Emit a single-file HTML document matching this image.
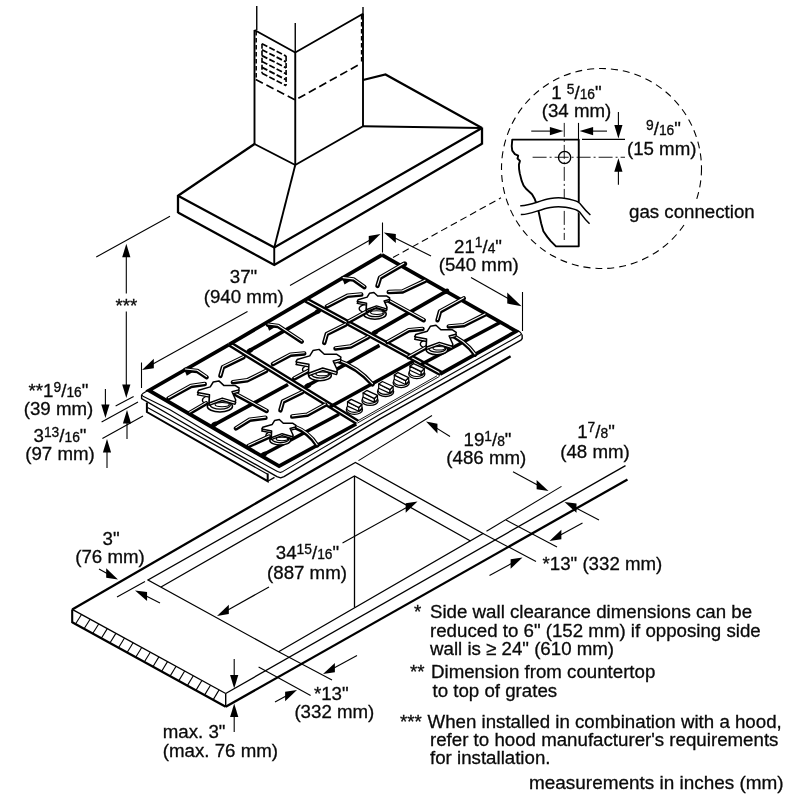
<!DOCTYPE html>
<html><head><meta charset="utf-8"><title>Cooktop installation dimensions</title>
<style>
html,body{margin:0;padding:0;background:#fff;}
body{width:800px;height:800px;overflow:hidden;will-change:transform;transform:translateZ(0);}
svg{display:block;}
text{font-family:"Liberation Sans",sans-serif;fill:#0a0a0a;stroke:#0a0a0a;stroke-width:0.3px;}
</style></head><body>
<svg width="800" height="800" viewBox="0 0 800 800">
<rect width="800" height="800" fill="#fff"/>
<path d="M256.75 6 L256.75 30" fill="none" stroke="#000" stroke-width="1.4"/>
<path d="M295.25 23 L295.25 52.5" fill="none" stroke="#000" stroke-width="1.4"/>
<path d="M363 7 L363 14" fill="none" stroke="#000" stroke-width="1.4"/>
<path d="M254.5 30 L254.5 144" fill="none" stroke="#000" stroke-width="1.9"/>
<path d="M295.25 52.5 L295.25 165" fill="none" stroke="#000" stroke-width="1.9"/>
<path d="M363 13.75 L363 126.5" fill="none" stroke="#000" stroke-width="1.9"/>
<path d="M254.5 30 L295.25 52.5 L363 13.75" fill="none" stroke="#000" stroke-width="1.9"/>
<path d="M254.5 144 L295.25 165" fill="none" stroke="#000" stroke-width="1.9"/>
<path d="M256.2 31 L256.2 79.5" fill="none" stroke="#000" stroke-width="1.5" stroke-dasharray="4.5 2.5"/>
<path d="M361.6 15 L361.6 63" fill="none" stroke="#000" stroke-width="1.5" stroke-dasharray="4.5 2.5"/>
<path d="M255.75 79.5 L295.25 100 L361 63.5" fill="none" stroke="#000" stroke-width="1.7" stroke-dasharray="8 4"/>
<path d="M262 43.8 L262 73.3" fill="none" stroke="#000" stroke-width="1.6" stroke-dasharray="5 2"/>
<path d="M286.1 56.1 L286.1 85.6" fill="none" stroke="#000" stroke-width="1.6" stroke-dasharray="5 2"/>
<path d="M262 43.8 L286.1 56.1" fill="none" stroke="#000" stroke-width="1.8" stroke-dasharray="6 2.2"/>
<path d="M262 49.7 L286.1 62" fill="none" stroke="#000" stroke-width="1.8" stroke-dasharray="6 2.2"/>
<path d="M262 55.6 L286.1 67.9" fill="none" stroke="#000" stroke-width="1.8" stroke-dasharray="6 2.2"/>
<path d="M262 61.5 L286.1 73.8" fill="none" stroke="#000" stroke-width="1.8" stroke-dasharray="6 2.2"/>
<path d="M262 67.4 L286.1 79.7" fill="none" stroke="#000" stroke-width="1.8" stroke-dasharray="6 2.2"/>
<path d="M262 73.3 L286.1 85.6" fill="none" stroke="#000" stroke-width="1.8" stroke-dasharray="6 2.2"/>
<path d="M254.5 144 L178 195.75" fill="none" stroke="#000" stroke-width="2.3"/>
<path d="M295.25 165 L274.25 247.5" fill="none" stroke="#000" stroke-width="1.9"/>
<path d="M295.25 165 L363 126.3" fill="none" stroke="#000" stroke-width="1.9"/>
<path d="M363 126.3 L482 128" fill="none" stroke="#000" stroke-width="1.9"/>
<path d="M363 80 L385.5 74.5 L482 128" fill="none" stroke="#000" stroke-width="2.3"/>
<path d="M178 195.75 L274.25 247.5 L482 128" fill="none" stroke="#000" stroke-width="2.3"/>
<path d="M178 212.5 L274.25 265 L482 143.75" fill="none" stroke="#000" stroke-width="2.3"/>
<path d="M178 195 L178 213" fill="none" stroke="#000" stroke-width="2.3"/>
<path d="M274.25 247.5 L274.25 265" fill="none" stroke="#000" stroke-width="1.9"/>
<path d="M482 127.5 L482 144.5" fill="none" stroke="#000" stroke-width="2.3"/>
<path d="M146.9 402.5 L146.9 412 L267.7 481.2 L267.7 473.5" fill="none" stroke="#000" stroke-width="2"/>
<path d="M147.5 407.6 L267.7 474.2" fill="none" stroke="#000" stroke-width="1.2"/>
<path d="M267.7 481.2 L274.5 477.4" fill="none" stroke="#000" stroke-width="1.3"/>
<path d="M149.5 389.6 L143.2 393.2 L141.6 394.9 L143 396.2 L170 409.8 L225 442.5 L277.5 471.6 L280.3 472.6 L283 471.4 L380 414.3 L519.5 335.6 L521.6 334 L520.3 332.3 L516.5 330" fill="none" stroke="#000" stroke-width="1.1" stroke-linejoin="round"/>
<path d="M141.6 395 L141.6 398.7 L170 415 L225 447.1 L277 476.6 L280.6 477.9 L284 476.6 L380 418.8 L521 340.2 L522.2 338.5 L522.1 334.4" fill="none" stroke="#000" stroke-width="1.4" stroke-linejoin="round"/>
<path d="M357.5 421 L437 375.8" fill="none" stroke="#000" stroke-width="0.9"/>
<path d="M357.5 423 L439.5 376.4" fill="none" stroke="#000" stroke-width="0.9"/>
<path d="M229 344.6 L149 390.4 L279.1 466.2 L356.2 424" fill="none" stroke="#000" stroke-width="3.7"/>
<path d="M230.92 342.51 L358.22 420.81" fill="none" stroke="#000" stroke-width="2.4"/>
<path d="M229.08 345.49 L356.38 423.79" fill="none" stroke="#000" stroke-width="2.4"/>
<path d="M212.2 425.8 L288 384.5" fill="none" stroke="#000" stroke-width="3.7"/>
<path d="M261.6 455.6 L339 414.3" fill="none" stroke="#000" stroke-width="3.4"/>
<path d="M229 344.6 L382 254.8" fill="none" stroke="#000" stroke-width="3.7"/>
<path d="M247.5 351.8 L316.5 312.3" fill="none" stroke="#000" stroke-width="3.7"/>
<path d="M305 387 L379.5 345.4" fill="none" stroke="#000" stroke-width="3.7"/>
<path d="M330 407 L413.5 361" fill="none" stroke="#000" stroke-width="3.7"/>
<path d="M306.84 298.46 L441.84 371.96" fill="none" stroke="#000" stroke-width="2.4"/>
<path d="M305.16 301.54 L440.16 375.04" fill="none" stroke="#000" stroke-width="2.4"/>
<path d="M381.9 254.9 L516.3 331.3 L440 374.2" fill="none" stroke="#000" stroke-width="3.7"/>
<path d="M372.5 333.6 L447.5 290.6" fill="none" stroke="#000" stroke-width="3.7"/>
<path d="M421 364.6 L500 322.6" fill="none" stroke="#000" stroke-width="3.4"/>
<ellipse cx="214.5" cy="424.3" rx="3.4" ry="2.4" transform="rotate(-30 214.5 424.3)" fill="#000"/>
<ellipse cx="264" cy="454.3" rx="3.4" ry="2.4" transform="rotate(-30 264 454.3)" fill="#000"/>
<ellipse cx="318" cy="311.3" rx="3.4" ry="2.4" transform="rotate(-30 318 311.3)" fill="#000"/>
<ellipse cx="375" cy="332.5" rx="3.4" ry="2.4" transform="rotate(-30 375 332.5)" fill="#000"/>
<ellipse cx="446" cy="291.3" rx="3.4" ry="2.4" transform="rotate(-30 446 291.3)" fill="#000"/>
<ellipse cx="404" cy="264.4" rx="3.4" ry="2.4" transform="rotate(-30 404 264.4)" fill="#000"/>
<ellipse cx="250" cy="350.5" rx="3.4" ry="2.4" transform="rotate(-30 250 350.5)" fill="#000"/>
<ellipse cx="308" cy="385.6" rx="3.4" ry="2.4" transform="rotate(-30 308 385.6)" fill="#000"/>
<ellipse cx="213.9" cy="400.2" rx="11.5" ry="5.2" fill="#fff" stroke="#000" stroke-width="1.3"/>
<ellipse cx="219.9" cy="406.2" rx="12.6" ry="5.8" fill="#fff" stroke="#000" stroke-width="1.5"/>
<ellipse cx="220.3" cy="404.9" rx="10.08" ry="4.29" fill="#fff" stroke="#000" stroke-width="1.3"/>
<ellipse cx="222.1" cy="404.6" rx="7.06" ry="2.09" fill="#fff" stroke="#000" stroke-width="1.1"/>
<ellipse cx="275.22" cy="435.38" rx="9.43" ry="4.26" fill="#fff" stroke="#000" stroke-width="1.3"/>
<ellipse cx="280.14" cy="440.3" rx="10.33" ry="4.76" fill="#fff" stroke="#000" stroke-width="1.5"/>
<ellipse cx="280.47" cy="439.23" rx="8.27" ry="3.52" fill="#fff" stroke="#000" stroke-width="1.3"/>
<ellipse cx="281.94" cy="438.99" rx="5.79" ry="1.71" fill="#fff" stroke="#000" stroke-width="1.1"/>
<ellipse cx="314" cy="369.5" rx="11.5" ry="5.2" fill="#fff" stroke="#000" stroke-width="1.3"/>
<ellipse cx="320" cy="375.5" rx="11.34" ry="5.22" fill="#fff" stroke="#000" stroke-width="1.5"/>
<ellipse cx="320.4" cy="374.2" rx="9.07" ry="3.86" fill="#fff" stroke="#000" stroke-width="1.3"/>
<ellipse cx="322.2" cy="373.9" rx="6.35" ry="1.88" fill="#fff" stroke="#000" stroke-width="1.1"/>
<ellipse cx="369.5" cy="308.6" rx="10.35" ry="4.68" fill="#fff" stroke="#000" stroke-width="1.3"/>
<ellipse cx="374.9" cy="314" rx="11.34" ry="5.22" fill="#fff" stroke="#000" stroke-width="1.5"/>
<ellipse cx="375.26" cy="312.83" rx="9.07" ry="3.86" fill="#fff" stroke="#000" stroke-width="1.3"/>
<ellipse cx="376.88" cy="312.56" rx="6.35" ry="1.88" fill="#fff" stroke="#000" stroke-width="1.1"/>
<ellipse cx="431.2" cy="344.05" rx="10.92" ry="4.94" fill="#fff" stroke="#000" stroke-width="1.3"/>
<ellipse cx="436.9" cy="349.75" rx="10.77" ry="4.96" fill="#fff" stroke="#000" stroke-width="1.5"/>
<ellipse cx="437.28" cy="348.51" rx="8.62" ry="3.67" fill="#fff" stroke="#000" stroke-width="1.3"/>
<ellipse cx="438.99" cy="348.23" rx="6.03" ry="1.79" fill="#fff" stroke="#000" stroke-width="1.1"/>
<path d="M168.5 398.35 L191 385.95 L204.75 384.1" fill="none" stroke="#000" stroke-width="4.5" stroke-linecap="round" stroke-linejoin="round"/>
<path d="M168.5 397.65 L191 385.25 L204.75 383.4" fill="none" stroke="#fff" stroke-width="1.1" stroke-linecap="round" stroke-linejoin="round"/>
<path d="M189.75 412.85 L206 403.35" fill="none" stroke="#000" stroke-width="4.5" stroke-linecap="round" stroke-linejoin="round"/>
<path d="M189.75 412.15 L206 402.65" fill="none" stroke="#fff" stroke-width="1.1" stroke-linecap="round" stroke-linejoin="round"/>
<path d="M185.4 369.75 L197.25 370.95 L206.6 377.25" fill="none" stroke="#000" stroke-width="4.5" stroke-linecap="round" stroke-linejoin="round"/>
<path d="M185.4 369.05 L197.25 370.25 L206.6 376.55" fill="none" stroke="#fff" stroke-width="1.1" stroke-linecap="round" stroke-linejoin="round"/>
<path d="M243.5 357.25 L222.9 367.25 L220.4 375.95" fill="none" stroke="#000" stroke-width="4.5" stroke-linecap="round" stroke-linejoin="round"/>
<path d="M243.5 356.55 L222.9 366.55 L220.4 375.25" fill="none" stroke="#fff" stroke-width="1.1" stroke-linecap="round" stroke-linejoin="round"/>
<path d="M266 370.95 L247.25 380.35 L232.9 382.25" fill="none" stroke="#000" stroke-width="4.5" stroke-linecap="round" stroke-linejoin="round"/>
<path d="M266 370.25 L247.25 379.65 L232.9 381.55" fill="none" stroke="#fff" stroke-width="1.1" stroke-linecap="round" stroke-linejoin="round"/>
<path d="M232.25 392.25 L266.6 410.95" fill="none" stroke="#000" stroke-width="4.5" stroke-linecap="round" stroke-linejoin="round"/>
<path d="M232.25 391.55 L266.6 410.25" fill="none" stroke="#fff" stroke-width="1.1" stroke-linecap="round" stroke-linejoin="round"/>
<path d="M236 428.35 L249.75 419.75 L265.4 417.85" fill="none" stroke="#000" stroke-width="4.5" stroke-linecap="round" stroke-linejoin="round"/>
<path d="M236 427.65 L249.75 419.05 L265.4 417.15" fill="none" stroke="#fff" stroke-width="1.1" stroke-linecap="round" stroke-linejoin="round"/>
<path d="M248.5 445.95 L269 436.6" fill="none" stroke="#000" stroke-width="4.5" stroke-linecap="round" stroke-linejoin="round"/>
<path d="M248.5 445.25 L269 435.9" fill="none" stroke="#fff" stroke-width="1.1" stroke-linecap="round" stroke-linejoin="round"/>
<path d="M302.25 392.25 L282.9 401.6 L280.4 410.35" fill="none" stroke="#000" stroke-width="4.5" stroke-linecap="round" stroke-linejoin="round"/>
<path d="M302.25 391.55 L282.9 400.9 L280.4 409.65" fill="none" stroke="#fff" stroke-width="1.1" stroke-linecap="round" stroke-linejoin="round"/>
<path d="M325.4 404.75 L307.25 414.75 L292.25 416.6" fill="none" stroke="#000" stroke-width="4.5" stroke-linecap="round" stroke-linejoin="round"/>
<path d="M325.4 404.05 L307.25 414.05 L292.25 415.9" fill="none" stroke="#fff" stroke-width="1.1" stroke-linecap="round" stroke-linejoin="round"/>
<path d="M294 426.2 Q309 432 317.2 445" fill="none" stroke="#000" stroke-width="4.5" stroke-linecap="round" transform="translate(0 0.35)"/>
<path d="M294 426.2 Q309 432 317.2 445" fill="none" stroke="#fff" stroke-width="1.1" stroke-linecap="round" transform="translate(0 -0.35)"/>
<path d="M273 364.1 L290.5 354.75 L304.25 353.45" fill="none" stroke="#000" stroke-width="4.5" stroke-linecap="round" stroke-linejoin="round"/>
<path d="M273 363.4 L290.5 354.05 L304.25 352.75" fill="none" stroke="#fff" stroke-width="1.1" stroke-linecap="round" stroke-linejoin="round"/>
<path d="M294.25 378.45 L314.25 367.85" fill="none" stroke="#000" stroke-width="4.5" stroke-linecap="round" stroke-linejoin="round"/>
<path d="M294.25 377.75 L314.25 367.15" fill="none" stroke="#fff" stroke-width="1.1" stroke-linecap="round" stroke-linejoin="round"/>
<path d="M268 324.75 L278 325.95 L301.75 341.6" fill="none" stroke="#000" stroke-width="4.5" stroke-linecap="round" stroke-linejoin="round"/>
<path d="M268 324.05 L278 325.25 L301.75 340.9" fill="none" stroke="#fff" stroke-width="1.1" stroke-linecap="round" stroke-linejoin="round"/>
<path d="M345.5 324.75 L326.75 334.1 L324.25 342.85" fill="none" stroke="#000" stroke-width="4.5" stroke-linecap="round" stroke-linejoin="round"/>
<path d="M345.5 324.05 L326.75 333.4 L324.25 342.15" fill="none" stroke="#fff" stroke-width="1.1" stroke-linecap="round" stroke-linejoin="round"/>
<path d="M368 337.25 L350.5 346.6 L335.5 348.45" fill="none" stroke="#000" stroke-width="4.5" stroke-linecap="round" stroke-linejoin="round"/>
<path d="M368 336.55 L350.5 345.9 L335.5 347.75" fill="none" stroke="#fff" stroke-width="1.1" stroke-linecap="round" stroke-linejoin="round"/>
<path d="M335.5 359.4 Q358 367 372.5 384" fill="none" stroke="#000" stroke-width="4.5" stroke-linecap="round" transform="translate(0 0.35)"/>
<path d="M335.5 359.4 Q358 367 372.5 384" fill="none" stroke="#fff" stroke-width="1.1" stroke-linecap="round" transform="translate(0 -0.35)"/>
<path d="M326.9 306.45 L347.5 295.85 L361.25 294.6" fill="none" stroke="#000" stroke-width="4.5" stroke-linecap="round" stroke-linejoin="round"/>
<path d="M326.9 305.75 L347.5 295.15 L361.25 293.9" fill="none" stroke="#fff" stroke-width="1.1" stroke-linecap="round" stroke-linejoin="round"/>
<path d="M348.75 321.45 L372.5 308.35" fill="none" stroke="#000" stroke-width="4.5" stroke-linecap="round" stroke-linejoin="round"/>
<path d="M348.75 320.75 L372.5 307.65" fill="none" stroke="#fff" stroke-width="1.1" stroke-linecap="round" stroke-linejoin="round"/>
<path d="M343.1 278.35 L353.75 279.6 L364.4 287.1" fill="none" stroke="#000" stroke-width="4.5" stroke-linecap="round" stroke-linejoin="round"/>
<path d="M343.1 277.65 L353.75 278.9 L364.4 286.4" fill="none" stroke="#fff" stroke-width="1.1" stroke-linecap="round" stroke-linejoin="round"/>
<path d="M403.75 263.95 L380 277.75 L377.5 285.85" fill="none" stroke="#000" stroke-width="4.5" stroke-linecap="round" stroke-linejoin="round"/>
<path d="M403.75 263.25 L380 277.05 L377.5 285.15" fill="none" stroke="#fff" stroke-width="1.1" stroke-linecap="round" stroke-linejoin="round"/>
<path d="M425 280.85 L402.5 291.45 L388.75 292.1" fill="none" stroke="#000" stroke-width="4.5" stroke-linecap="round" stroke-linejoin="round"/>
<path d="M425 280.15 L402.5 290.75 L388.75 291.4" fill="none" stroke="#fff" stroke-width="1.1" stroke-linecap="round" stroke-linejoin="round"/>
<path d="M388.75 300.85 L423.75 320.25" fill="none" stroke="#000" stroke-width="4.5" stroke-linecap="round" stroke-linejoin="round"/>
<path d="M388.75 300.15 L423.75 319.55" fill="none" stroke="#fff" stroke-width="1.1" stroke-linecap="round" stroke-linejoin="round"/>
<path d="M387.5 342.1 L408.75 330.25 L422.5 328.95" fill="none" stroke="#000" stroke-width="4.5" stroke-linecap="round" stroke-linejoin="round"/>
<path d="M387.5 341.4 L408.75 329.55 L422.5 328.25" fill="none" stroke="#fff" stroke-width="1.1" stroke-linecap="round" stroke-linejoin="round"/>
<path d="M408.75 357.1 L431.25 344.6" fill="none" stroke="#000" stroke-width="4.5" stroke-linecap="round" stroke-linejoin="round"/>
<path d="M408.75 356.4 L431.25 343.9" fill="none" stroke="#fff" stroke-width="1.1" stroke-linecap="round" stroke-linejoin="round"/>
<path d="M463.75 298.35 L440 311.45 L437.5 320.25" fill="none" stroke="#000" stroke-width="4.5" stroke-linecap="round" stroke-linejoin="round"/>
<path d="M463.75 297.65 L440 310.75 L437.5 319.55" fill="none" stroke="#fff" stroke-width="1.1" stroke-linecap="round" stroke-linejoin="round"/>
<path d="M485 314.6 L463.75 325.25 L448.75 326.45" fill="none" stroke="#000" stroke-width="4.5" stroke-linecap="round" stroke-linejoin="round"/>
<path d="M485 313.9 L463.75 324.55 L448.75 325.75" fill="none" stroke="#fff" stroke-width="1.1" stroke-linecap="round" stroke-linejoin="round"/>
<path d="M447.5 333 Q465 340 475 354.2" fill="none" stroke="#000" stroke-width="4.5" stroke-linecap="round" transform="translate(0 0.35)"/>
<path d="M447.5 333 Q465 340 475 354.2" fill="none" stroke="#fff" stroke-width="1.1" stroke-linecap="round" transform="translate(0 -0.35)"/>
<polygon points="184.7,370.4 193.2,371.8 186.7,375.8" fill="#000"/>
<polygon points="342.5,279 351,280.4 344.5,284.4" fill="#000"/>
<polygon points="267.1,325.4 275.6,326.8 269.1,330.8" fill="#000"/>
<path d="M197.5 394.9 L198.6 392.65 L210.25 389.3 L213.25 384.4 L218.9 383.3 L223.75 387.8 L235 387.8 L239.1 390.4 L238.75 392.3 L232 394.15 L235.75 402.4 L235 404.3 L222.25 400.5 L209.1 405.4 L209.5 397.15 Z" fill="#fff" stroke="#000" stroke-width="1.4" stroke-linejoin="round"/>
<path d="M197.5 392.5 L198.6 390.25 L210.25 386.9 L213.25 382 L218.9 380.9 L223.75 385.4 L235 385.4 L239.1 388 L238.75 389.9 L232 391.75 L235.75 400 L235 401.9 L222.25 398.1 L209.1 403 L209.5 394.75 Z" fill="#fff" stroke="#000" stroke-width="1.5" stroke-linejoin="round"/>
<path d="M261.77 431.03 L262.67 429.19 L272.23 426.44 L274.69 422.42 L279.32 421.52 L283.3 425.21 L292.52 425.21 L295.88 427.34 L295.6 428.9 L290.06 430.42 L293.14 437.18 L292.52 438.74 L282.07 435.63 L271.28 439.64 L271.61 432.88 Z" fill="#fff" stroke="#000" stroke-width="1.4" stroke-linejoin="round"/>
<path d="M261.77 429.07 L262.67 427.22 L272.23 424.47 L274.69 420.46 L279.32 419.55 L283.3 423.24 L292.52 423.24 L295.88 425.38 L295.6 426.93 L290.06 428.45 L293.14 435.22 L292.52 436.77 L282.07 433.66 L271.28 437.68 L271.61 430.91 Z" fill="#fff" stroke="#000" stroke-width="1.5" stroke-linejoin="round"/>
<path d="M295.97 364.5 L297.16 362.07 L309.74 358.45 L312.98 353.16 L319.08 351.97 L324.32 356.83 L336.47 356.83 L340.9 359.64 L340.52 361.69 L333.23 363.69 L337.28 372.6 L336.47 374.65 L322.7 370.54 L308.5 375.84 L308.93 366.93 Z" fill="#fff" stroke="#000" stroke-width="1.4" stroke-linejoin="round"/>
<path d="M295.97 361.9 L297.16 359.47 L309.74 355.86 L312.98 350.56 L319.08 349.38 L324.32 354.24 L336.47 354.24 L340.9 357.04 L340.52 359.1 L333.23 361.09 L337.28 370 L336.47 372.06 L322.7 367.95 L308.5 373.24 L308.93 364.33 Z" fill="#fff" stroke="#000" stroke-width="1.5" stroke-linejoin="round"/>
<path d="M357.19 303.39 L358.05 301.63 L367.13 299.02 L369.47 295.2 L373.88 294.34 L377.66 297.85 L386.44 297.85 L389.64 299.88 L389.36 301.36 L384.1 302.8 L387.02 309.24 L386.44 310.72 L376.49 307.75 L366.24 311.58 L366.55 305.14 Z" fill="#fff" stroke="#000" stroke-width="1.4" stroke-linejoin="round"/>
<path d="M357.19 301.51 L358.05 299.76 L367.13 297.15 L369.47 293.32 L373.88 292.47 L377.66 295.98 L386.44 295.98 L389.64 298 L389.36 299.49 L384.1 300.93 L387.02 307.36 L386.44 308.85 L376.49 305.88 L366.24 309.7 L366.55 303.27 Z" fill="#fff" stroke="#000" stroke-width="1.5" stroke-linejoin="round"/>
<path d="M414.6 339.2 L415.7 336.95 L427.35 333.6 L430.35 328.7 L436 327.6 L440.85 332.1 L452.1 332.1 L456.2 334.7 L455.85 336.6 L449.1 338.45 L452.85 346.7 L452.1 348.6 L439.35 344.8 L426.2 349.7 L426.6 341.45 Z" fill="#fff" stroke="#000" stroke-width="1.4" stroke-linejoin="round"/>
<path d="M414.6 336.8 L415.7 334.55 L427.35 331.2 L430.35 326.3 L436 325.2 L440.85 329.7 L452.1 329.7 L456.2 332.3 L455.85 334.2 L449.1 336.05 L452.85 344.3 L452.1 346.2 L439.35 342.4 L426.2 347.3 L426.6 339.05 Z" fill="#fff" stroke="#000" stroke-width="1.5" stroke-linejoin="round"/>
<ellipse cx="354.4" cy="409.7" rx="8.1" ry="4.7" fill="#fff" stroke="#000" stroke-width="1.3"/>
<ellipse cx="354.4" cy="407.9" rx="7.6" ry="4.4" fill="#fff" stroke="#000" stroke-width="1.2"/>
<path d="M347.5 401.9 L358.8 407.5 L358.8 411.3 L347.5 406.1 Z" fill="#fff" stroke="#000" stroke-width="1.2" stroke-linejoin="round"/>
<path d="M358.8 407.5 L361.9 404.4 L361.9 408.1 L358.8 411.3 Z" fill="#fff" stroke="#000" stroke-width="1.2" stroke-linejoin="round"/>
<path d="M347.5 401.9 L351.2 399.4 L361.9 404.4 L358.8 407.5 Z" fill="#fff" stroke="#000" stroke-width="1.3" stroke-linejoin="round"/>
<ellipse cx="370" cy="400.75" rx="8.1" ry="4.7" fill="#fff" stroke="#000" stroke-width="1.3"/>
<ellipse cx="370" cy="398.95" rx="7.6" ry="4.4" fill="#fff" stroke="#000" stroke-width="1.2"/>
<path d="M363.1 392.95 L374.4 398.55 L374.4 402.35 L363.1 397.15 Z" fill="#fff" stroke="#000" stroke-width="1.2" stroke-linejoin="round"/>
<path d="M374.4 398.55 L377.5 395.45 L377.5 399.15 L374.4 402.35 Z" fill="#fff" stroke="#000" stroke-width="1.2" stroke-linejoin="round"/>
<path d="M363.1 392.95 L366.8 390.45 L377.5 395.45 L374.4 398.55 Z" fill="#fff" stroke="#000" stroke-width="1.3" stroke-linejoin="round"/>
<ellipse cx="385.6" cy="391.8" rx="8.1" ry="4.7" fill="#fff" stroke="#000" stroke-width="1.3"/>
<ellipse cx="385.6" cy="390" rx="7.6" ry="4.4" fill="#fff" stroke="#000" stroke-width="1.2"/>
<path d="M378.7 384 L390 389.6 L390 393.4 L378.7 388.2 Z" fill="#fff" stroke="#000" stroke-width="1.2" stroke-linejoin="round"/>
<path d="M390 389.6 L393.1 386.5 L393.1 390.2 L390 393.4 Z" fill="#fff" stroke="#000" stroke-width="1.2" stroke-linejoin="round"/>
<path d="M378.7 384 L382.4 381.5 L393.1 386.5 L390 389.6 Z" fill="#fff" stroke="#000" stroke-width="1.3" stroke-linejoin="round"/>
<ellipse cx="401.2" cy="382.85" rx="8.1" ry="4.7" fill="#fff" stroke="#000" stroke-width="1.3"/>
<ellipse cx="401.2" cy="381.05" rx="7.6" ry="4.4" fill="#fff" stroke="#000" stroke-width="1.2"/>
<path d="M394.3 375.05 L405.6 380.65 L405.6 384.45 L394.3 379.25 Z" fill="#fff" stroke="#000" stroke-width="1.2" stroke-linejoin="round"/>
<path d="M405.6 380.65 L408.7 377.55 L408.7 381.25 L405.6 384.45 Z" fill="#fff" stroke="#000" stroke-width="1.2" stroke-linejoin="round"/>
<path d="M394.3 375.05 L398 372.55 L408.7 377.55 L405.6 380.65 Z" fill="#fff" stroke="#000" stroke-width="1.3" stroke-linejoin="round"/>
<ellipse cx="416.8" cy="373.9" rx="8.1" ry="4.7" fill="#fff" stroke="#000" stroke-width="1.3"/>
<ellipse cx="416.8" cy="372.1" rx="7.6" ry="4.4" fill="#fff" stroke="#000" stroke-width="1.2"/>
<path d="M409.9 366.1 L421.2 371.7 L421.2 375.5 L409.9 370.3 Z" fill="#fff" stroke="#000" stroke-width="1.2" stroke-linejoin="round"/>
<path d="M421.2 371.7 L424.3 368.6 L424.3 372.3 L421.2 375.5 Z" fill="#fff" stroke="#000" stroke-width="1.2" stroke-linejoin="round"/>
<path d="M409.9 366.1 L413.6 363.6 L424.3 368.6 L421.2 371.7 Z" fill="#fff" stroke="#000" stroke-width="1.3" stroke-linejoin="round"/>
<path d="M510.6 356.3 L72.2 609.4" fill="none" stroke="#000" stroke-width="2.3"/>
<path d="M72.2 609.4 L225.7 693.5" fill="none" stroke="#000" stroke-width="1.4"/>
<path d="M72.2 622.2 L225.7 706.8" fill="none" stroke="#000" stroke-width="2.3"/>
<path d="M72.2 609.4 L72.2 623" fill="none" stroke="#000" stroke-width="2.1"/>
<path d="M225.7 693.5 L225.7 706.8" fill="none" stroke="#000" stroke-width="1.4"/>
<path d="M225.7 693.5 L625.5 465.6" fill="none" stroke="#000" stroke-width="1.3"/>
<path d="M225.7 706.8 L627.5 479.5" fill="none" stroke="#000" stroke-width="2.3"/>
<path d="M75.5 624.02 L81.5 614.5" fill="none" stroke="#000" stroke-width="1.1"/>
<path d="M84.1 628.76 L90.1 619.21" fill="none" stroke="#000" stroke-width="1.1"/>
<path d="M92.7 633.5 L98.7 623.92" fill="none" stroke="#000" stroke-width="1.1"/>
<path d="M101.3 638.24 L107.3 628.63" fill="none" stroke="#000" stroke-width="1.1"/>
<path d="M109.9 642.98 L115.9 633.34" fill="none" stroke="#000" stroke-width="1.1"/>
<path d="M118.5 647.72 L124.5 638.05" fill="none" stroke="#000" stroke-width="1.1"/>
<path d="M127.1 652.46 L133.1 642.77" fill="none" stroke="#000" stroke-width="1.1"/>
<path d="M135.7 657.2 L141.7 647.48" fill="none" stroke="#000" stroke-width="1.1"/>
<path d="M144.3 661.94 L150.3 652.19" fill="none" stroke="#000" stroke-width="1.1"/>
<path d="M152.9 666.68 L158.9 656.9" fill="none" stroke="#000" stroke-width="1.1"/>
<path d="M161.5 671.42 L167.5 661.61" fill="none" stroke="#000" stroke-width="1.1"/>
<path d="M170.1 676.16 L176.1 666.33" fill="none" stroke="#000" stroke-width="1.1"/>
<path d="M178.7 680.9 L184.7 671.04" fill="none" stroke="#000" stroke-width="1.1"/>
<path d="M187.3 685.64 L193.3 675.75" fill="none" stroke="#000" stroke-width="1.1"/>
<path d="M195.9 690.38 L201.9 680.46" fill="none" stroke="#000" stroke-width="1.1"/>
<path d="M204.5 695.12 L210.5 685.17" fill="none" stroke="#000" stroke-width="1.1"/>
<path d="M213.1 699.86 L219.1 689.88" fill="none" stroke="#000" stroke-width="1.1"/>
<path d="M278.6 651.8 L148 580 L355.4 462.5 L483 533.5 L278.6 651.8" fill="none" stroke="#000" stroke-width="1.3"/>
<path d="M161 587 L354.5 476 L470.5 541" fill="none" stroke="#000" stroke-width="1.3"/>
<path d="M354.5 476 L354.5 607.5" fill="none" stroke="#000" stroke-width="1.3"/>
<path d="M117 597 L145 581.6" fill="none" stroke="#000" stroke-width="1.1"/>
<path d="M358.5 460.6 L432 415.5" fill="none" stroke="#000" stroke-width="1.1"/>
<path d="M486.5 531.3 L561.5 486.4" fill="none" stroke="#000" stroke-width="1.1"/>
<path d="M483 533.5 L536 561.5" fill="none" stroke="#000" stroke-width="1.1"/>
<path d="M506 520 L557 547" fill="none" stroke="#000" stroke-width="1.1"/>
<path d="M278.6 651.8 L332 680" fill="none" stroke="#000" stroke-width="1.1"/>
<path d="M258.6 667 L310.6 695.4" fill="none" stroke="#000" stroke-width="1.1"/>
<path d="M99 569 L107.08 573.51" fill="none" stroke="#000" stroke-width="1.1"/>
<polygon points="118,579.6 106.21,568.33 106.21,577.72" fill="#000"/>
<path d="M160 603 L146.16 596.03" fill="none" stroke="#000" stroke-width="1.1"/>
<polygon points="135,590.4 147.06,591.88 147.06,601.07" fill="#000"/>
<path d="M269 587 L227.92 609.91" fill="none" stroke="#000" stroke-width="1.1"/>
<polygon points="217,616 228.79,604.73 228.79,614.12" fill="#000"/>
<path d="M342.5 543 L406.56 507.55" fill="none" stroke="#000" stroke-width="1.1"/>
<polygon points="417.5,501.5 405.69,503.35 405.69,512.72" fill="#000"/>
<path d="M450 436.5 L436.6 428.12" fill="none" stroke="#000" stroke-width="1.1"/>
<polygon points="426,421.5 437.45,423.82 437.45,433.49" fill="#000"/>
<path d="M513 471.8 L537.51 485.05" fill="none" stroke="#000" stroke-width="1.1"/>
<polygon points="548.5,491 536.63,479.92 536.63,489.24" fill="#000"/>
<path d="M599 520 L575.58 507.78" fill="none" stroke="#000" stroke-width="1.1"/>
<polygon points="564.5,502 576.47,503.62 576.47,512.87" fill="#000"/>
<path d="M582.5 523 L560.47 535.01" fill="none" stroke="#000" stroke-width="1.1"/>
<polygon points="549.5,541 561.35,529.87 561.35,539.21" fill="#000"/>
<path d="M489.5 575.5 L511.53 563.49" fill="none" stroke="#000" stroke-width="1.1"/>
<polygon points="522.5,557.5 510.65,559.29 510.65,568.63" fill="#000"/>
<path d="M357 655.6 L333.99 668.05" fill="none" stroke="#000" stroke-width="1.1"/>
<polygon points="323,674 334.87,662.91 334.87,672.24" fill="#000"/>
<path d="M275 702 L286.03 695.99" fill="none" stroke="#000" stroke-width="1.1"/>
<polygon points="297,690 285.15,691.79 285.15,701.13" fill="#000"/>
<path d="M234.2 659 L234.2 676" fill="none" stroke="#000" stroke-width="1.1"/>
<polygon points="234.2,688.5 230.1,675 238.3,675" fill="#000"/>
<path d="M234.2 732 L234.2 716" fill="none" stroke="#000" stroke-width="1.1"/>
<polygon points="234.2,703.5 238.3,717 230.1,717" fill="#000"/>
<path d="M96.25 257 L170 216.25" fill="none" stroke="#000" stroke-width="1.1"/>
<path d="M126.3 293.5 L126.3 256.25" fill="none" stroke="#000" stroke-width="1.1"/>
<polygon points="126.3,243.75 130.4,257.25 122.2,257.25" fill="#000"/>
<path d="M126.3 311.5 L126.3 385.5" fill="none" stroke="#000" stroke-width="1.1"/>
<polygon points="126.3,398 122.2,384.5 130.4,384.5" fill="#000"/>
<path d="M115.6 406 L133.6 396.6" fill="none" stroke="#000" stroke-width="1.1"/>
<path d="M101.6 422 L138 402" fill="none" stroke="#000" stroke-width="1.1"/>
<path d="M102.4 438.4 L143 416" fill="none" stroke="#000" stroke-width="1.1"/>
<path d="M105.4 389 L105.4 405.5" fill="none" stroke="#000" stroke-width="1.1"/>
<polygon points="105.4,418 101.3,404.5 109.5,404.5" fill="#000"/>
<path d="M127 439 L127 422.5" fill="none" stroke="#000" stroke-width="1.1"/>
<polygon points="127,410 131.1,423.5 122.9,423.5" fill="#000"/>
<path d="M107 468 L107 451.5" fill="none" stroke="#000" stroke-width="1.1"/>
<polygon points="107,439 111.1,452.5 102.9,452.5" fill="#000"/>
<path d="M141.5 362.5 L141.5 388" fill="none" stroke="#000" stroke-width="1.1"/>
<path d="M382.5 222.5 L382.5 252.5" fill="none" stroke="#000" stroke-width="1.1"/>
<path d="M522.5 292 L522.5 331" fill="none" stroke="#000" stroke-width="1.1"/>
<path d="M247.5 311.5 L152.93 363.94" fill="none" stroke="#000" stroke-width="1.1"/>
<polygon points="142,370 153.81,358.77 153.81,368.14" fill="#000"/>
<path d="M290 285.5 L369.64 240.18" fill="none" stroke="#000" stroke-width="1.1"/>
<polygon points="380.5,234 368.77,235.96 368.77,245.39" fill="#000"/>
<path d="M431 256 L394.94 238.07" fill="none" stroke="#000" stroke-width="1.1"/>
<polygon points="383.75,232.5 395.84,233.93 395.84,243.09" fill="#000"/>
<path d="M471 277.5 L508.12 298.55" fill="none" stroke="#000" stroke-width="1.1"/>
<polygon points="521.6,306.2 507.25,292.6 507.25,303.52" fill="#000"/>
<path d="M393 257.5 L501 197.8" fill="none" stroke="#000" stroke-width="1.1" stroke-dasharray="7 4"/>
<circle cx="601.5" cy="168.5" r="100" fill="none" stroke="#000" stroke-width="1.1" stroke-dasharray="7 5"/>
<path d="M512.25 139.6 L511.73 146.25 L512.25 150.63 L514.88 154.13 L518.2 155.7 L517.5 158.5 L519.95 160.95 L518.9 164.63 L519.08 169 L519.78 173.38 L521.7 180.9 L523.63 185.63 L526.6 189.3 L532.03 194.2 L534.48 198.4 L536.23 203.13 L538.5 211 L541.13 223.26 L543.4 231.31 L547.25 236.91 L550.75 241.11 L556 246.36 L578.75 246.36 L578.75 139.6 Z" fill="none" stroke="#000" stroke-width="1.9" stroke-linejoin="round"/>
<circle cx="564.6" cy="157.5" r="6.1" fill="#fff" stroke="#000" stroke-width="1.4"/>
<path d="M564.25 122.9 L564.25 240" fill="none" stroke="#000" stroke-width="0.9" stroke-dasharray="14 3 2 3"/>
<path d="M532.6 157.25 L625 157.25" fill="none" stroke="#000" stroke-width="0.9" stroke-dasharray="14 3 2 3"/>
<path d="M578.5 122.9 L578.5 139.4" fill="none" stroke="#000" stroke-width="1.1"/>
<path d="M582 139.4 L625 139.4" fill="none" stroke="#000" stroke-width="1.1"/>
<path d="M531.25 131.1 L550.9 131.1" fill="none" stroke="#000" stroke-width="1.1"/>
<polygon points="563.4,131.1 549.9,127 549.9,135.2" fill="#000"/>
<path d="M607 131.1 L592.1 131.1" fill="none" stroke="#000" stroke-width="1.1"/>
<polygon points="579.6,131.1 593.1,127 593.1,135.2" fill="#000"/>
<path d="M618.4 111.9 L618.4 126.1" fill="none" stroke="#000" stroke-width="1.1"/>
<polygon points="618.4,138.6 614.3,125.1 622.5,125.1" fill="#000"/>
<path d="M618.4 184.8 L618.4 170.7" fill="none" stroke="#000" stroke-width="1.1"/>
<polygon points="618.4,158.2 622.5,171.7 614.3,171.7" fill="#000"/>
<path d="M517.5 210.07 C532.88 210.92 546.88 199.42 565.63 202.92 S577.13 207.54 592.31 219.42" fill="none" stroke="#fff" stroke-width="8.6"/>
<path d="M520.25 205.67 C532.88 206.52 546.88 195.02 565.63 198.51 S577.13 203.14 590.39 215.02" fill="none" stroke="#000" stroke-width="1.5"/>
<path d="M520.8 214.47 C532.88 215.32 546.88 203.82 565.63 207.32 S577.13 211.94 589.56 223.82" fill="none" stroke="#000" stroke-width="1.5"/>
<rect x="626" y="203" width="132" height="20" fill="#fff"/>
<text x="243.5" y="282.5" font-size="18.7" text-anchor="middle" >37"</text>
<text x="243.7" y="302.5" font-size="18.7" text-anchor="middle" >(940 mm)</text>
<text x="478" y="252.5" font-size="18.7" text-anchor="middle" >21<tspan font-size="13.8" dy="-5.2">1</tspan><tspan dy="5.2">/</tspan><tspan font-size="13.8">4</tspan>"</text>
<text x="478.7" y="271" font-size="18.7" text-anchor="middle" >(540 mm)</text>
<text x="126.3" y="312" font-size="18.7" text-anchor="middle" >***</text>
<text x="58.5" y="397" font-size="18.7" text-anchor="middle" >**1<tspan font-size="13.8" dy="-5.2">9</tspan><tspan dy="5.2">/</tspan><tspan font-size="13.8">16</tspan>"</text>
<text x="58.5" y="415" font-size="18.7" text-anchor="middle" >(39 mm)</text>
<text x="60" y="442" font-size="18.7" text-anchor="middle" >3<tspan font-size="13.8" dy="-5.2">13</tspan><tspan dy="5.2">/</tspan><tspan font-size="13.8">16</tspan>"</text>
<text x="60" y="460" font-size="18.7" text-anchor="middle" >(97 mm)</text>
<text x="111" y="545" font-size="18.7" text-anchor="middle" >3"</text>
<text x="110" y="563" font-size="18.7" text-anchor="middle" >(76 mm)</text>
<text x="307.5" y="559" font-size="18.7" text-anchor="middle" >34<tspan font-size="13.8" dy="-5.2">15</tspan><tspan dy="5.2">/</tspan><tspan font-size="13.8">16</tspan>"</text>
<text x="307" y="579" font-size="18.7" text-anchor="middle" >(887 mm)</text>
<text x="487.5" y="446" font-size="18.7" text-anchor="middle" >19<tspan font-size="13.8" dy="-5.2">1</tspan><tspan dy="5.2">/</tspan><tspan font-size="13.8">8</tspan>"</text>
<text x="486.3" y="464" font-size="18.7" text-anchor="middle" >(486 mm)</text>
<text x="596" y="437.5" font-size="18.7" text-anchor="middle" >1<tspan font-size="13.8" dy="-5.2">7</tspan><tspan dy="5.2">/</tspan><tspan font-size="13.8">8</tspan>"</text>
<text x="595" y="457.5" font-size="18.7" text-anchor="middle" >(48 mm)</text>
<text x="542.5" y="570" font-size="18.7" text-anchor="start" >*13" (332 mm)</text>
<text x="313.9" y="699.6" font-size="18.7" text-anchor="start" >*13"</text>
<text x="294.4" y="717.5" font-size="18.7" text-anchor="start" >(332 mm)</text>
<text x="162.75" y="737.6" font-size="18.7" text-anchor="start" >max. 3"</text>
<text x="162.75" y="756.5" font-size="18.7" text-anchor="start" >(max. 76 mm)</text>
<text x="576.5" y="99" font-size="18.7" text-anchor="middle" >1<tspan font-size="13.8" dy="-5.2" dx="5">5</tspan><tspan dy="5.2">/</tspan><tspan font-size="13.8">16</tspan>"</text>
<text x="576.5" y="117.4" font-size="18.7" text-anchor="middle" >(34 mm)</text>
<text x="663.5" y="135" font-size="18.7" text-anchor="middle" ><tspan font-size="13.8" dy="-5.2">9</tspan><tspan dy="5.2">/</tspan><tspan font-size="13.8">16</tspan>"</text>
<text x="661.7" y="154.5" font-size="18.7" text-anchor="middle" >(15 mm)</text>
<text x="629" y="218" font-size="18.7" text-anchor="start" >gas connection</text>
<text x="414" y="617.5" font-size="18.7" text-anchor="start" >*</text>
<text x="430" y="617.5" font-size="18.7" text-anchor="start" >Side wall clearance dimensions can be</text>
<text x="430" y="636.5" font-size="18.7" text-anchor="start" >reduced to 6" (152 mm) if opposing side</text>
<text x="430" y="655" font-size="18.7" text-anchor="start" >wall is ≥ 24" (610 mm)</text>
<text x="410" y="677.5" font-size="18.7" text-anchor="start" >**</text>
<text x="431" y="677.5" font-size="18.7" text-anchor="start" >Dimension from countertop</text>
<text x="432.5" y="696.5" font-size="18.7" text-anchor="start" >to top of grates</text>
<text x="400" y="727.5" font-size="18.7" text-anchor="start" >***</text>
<text x="427.5" y="727.5" font-size="18.7" text-anchor="start" >When installed in combination with a hood,</text>
<text x="430" y="746" font-size="18.7" text-anchor="start" >refer to hood manufacturer's requirements</text>
<text x="430" y="763.5" font-size="18.7" text-anchor="start" >for installation.</text>
<text x="529" y="789" font-size="18.95" text-anchor="start" >measurements in inches (mm)</text>
</svg>
</body></html>
